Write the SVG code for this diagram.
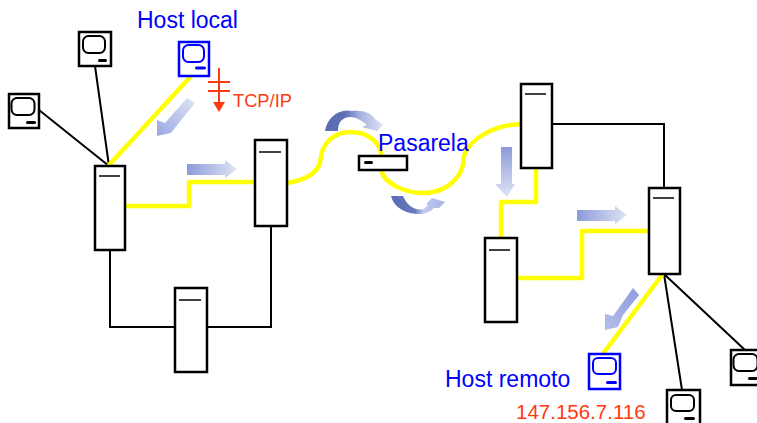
<svg xmlns="http://www.w3.org/2000/svg" width="757" height="423" viewBox="0 0 757 423">
<style>
.sv{fill:#fff;stroke:#000;stroke-width:2.5}
.ln{fill:none;stroke:#000;stroke-width:2}
.bk{fill:none;stroke:#000;stroke-width:2}
.yc{fill:none;stroke:#ffff00;stroke-width:4.5;stroke-linecap:round;stroke-linejoin:round}
.pc{fill:#fff;stroke:#000;stroke-width:2.5}
.pcb{fill:#fff;stroke:#0000ff;stroke-width:2.5}
.scr{fill:#fff;stroke:#000;stroke-width:2}
.scb{fill:#fff;stroke:#0000ff;stroke-width:2}
.bar{stroke:#000;stroke-width:1.500}
.blue{font-family:"Liberation Sans",Arial,sans-serif;font-size:23px;fill:#0000ff}
.red{font-family:"Liberation Sans",Arial,sans-serif;fill:#ff3a10}
</style>
<defs>
<linearGradient id="gr" x1="0" x2="1" y1="0" y2="0"><stop offset="0" stop-color="#8c9bd8"/><stop offset="1" stop-color="#dfe4f6"/></linearGradient>
<linearGradient id="gd" x1="0" x2="0" y1="0" y2="1"><stop offset="0" stop-color="#8c9bd8"/><stop offset="1" stop-color="#dfe4f6"/></linearGradient>
<linearGradient id="gdl" x1="1" x2="0" y1="0" y2="1"><stop offset="0" stop-color="#dfe4f6"/><stop offset="1" stop-color="#9aa8e0"/></linearGradient>
<linearGradient id="gl2" x1="1" x2="0" y1="0" y2="1"><stop offset="0" stop-color="#8e9cdc"/><stop offset="1" stop-color="#b4bfea"/></linearGradient>
<linearGradient id="c1" x1="0" x2="1" y1="0" y2="0"><stop offset="0" stop-color="#5a6cb4"/><stop offset=".35" stop-color="#5f70b6"/><stop offset=".6" stop-color="#a5b1e0"/><stop offset="1" stop-color="#dde2f6"/></linearGradient>
<linearGradient id="c2" x1="0" x2="1" y1="0" y2="0"><stop offset="0" stop-color="#5a6cb4"/><stop offset=".45" stop-color="#6a7abc"/><stop offset=".6" stop-color="#c0c9ee"/><stop offset="1" stop-color="#a9b5e6"/></linearGradient>
</defs>
<g id="connectors">
<path class="ln" d="M95 66L109 166M39 110L109 166M552 124H664V188M664 274L682 390M664 274L745 350"/>
<path class="bk" d="M110 250V327H175M207 327H271V226"/>
<path class="yc" d="M193 74L109 165"/>
<path class="yc" d="M126 206H189V182H255"/>
<path class="yc" d="M286 183C310 180 320 170 321 157C323 142 335 132 351 132C368 132 380 143 381 154"/>
<path class="yc" d="M381 168C382 183 405 193 423 193C446 193 464 178 464 156C470 138 495 125 521 124"/>
<path class="yc" d="M536 169V202H501V238"/>
<path class="yc" d="M517 278H582V231H649"/>
<path class="yc" d="M662 275L602 355"/>
</g>
<g id="flow-arrows">
<path d="M187 164H225V160L237 169L225 178V175H187Z" fill="url(#gr)"/>
<path d="M577 210H615V206L627 215L615 224V221H577Z" fill="url(#gr)"/>
<path d="M187 98L195 103L178 124L171 133L157 136L157 120L165 123Z" fill="url(#gdl)"/>
<path d="M501 147H512V184H515L507 197L495 184H501Z" fill="url(#gd)"/>
<path d="M633 288L639 295L623 315L618 327L605 330L605 314L613 316Z" fill="url(#gl2)"/>
<path d="M325 131C327 117 340 108 352 111C364 110 371 113 375 119L383 125L377 131L362 127L367 125C360 119 352 115 345 118C339 121 338 126 338 131Z" fill="url(#c1)"/>
<path d="M391 196H403C407 205 414 211 424 209L428 205L426 204L432 198L445 202L439 208L434 208C430 212 425 214 420 214C406 214 394 208 391 196Z" fill="url(#c2)"/>
</g>
<g id="host-local">
<rect class="pcb" x="179" y="42" width="30" height="34"/><rect class="scb" x="183" y="45" width="21" height="17" rx="5.500"/><rect x="195" y="66.500" width="11" height="3" rx="1.500" fill="#0000ff"/>
<text class="blue" x="137" y="28">Host local</text></g>
<g id="pc-1"><rect class="pc" x="79" y="32" width="32" height="34"/><rect class="scr" x="83" y="36" width="22" height="17" rx="5.500"/><rect x="98" y="59" width="9" height="3" rx="1.500"/></g>
<g id="pc-2"><rect class="pc" x="9" y="94" width="30" height="34"/><rect class="scr" x="11.500" y="98" width="23" height="17" rx="5.500"/><rect x="26" y="121" width="10" height="3" rx="1.500"/></g>
<g id="tcpip">
<path d="M219 68V104" stroke="#ff3a10" stroke-width="2" fill="none"/><path d="M208 82H230M208 91H230" stroke="#ff3a10" stroke-width="2" fill="none"/><path d="M213 102H225L219 112Z" fill="#ff3a10"/>
<text class="red" x="233" y="107" font-size="18.300">TCP/IP</text></g>
<g id="router-1"><rect class="sv" x="95" y="166" width="30" height="84"/><path class="bar" d="M99 176H120"/></g>
<g id="router-2"><rect class="sv" x="255" y="140" width="32" height="86"/><path class="bar" d="M259 152H281"/></g>
<g id="router-3"><rect class="sv" x="175" y="288" width="32" height="84"/><path class="bar" d="M179 300H201"/></g>
<g id="gateway"><rect class="sv" x="359" y="156" width="48" height="14"/><rect x="364" y="161" width="9" height="3" rx="1.500"/>
<text class="blue" x="378" y="151">Pasarela</text></g>
<g id="router-4"><rect class="sv" x="521" y="84" width="31" height="84"/><path class="bar" d="M525 94H546"/></g>
<g id="router-5"><rect class="sv" x="485" y="238" width="32" height="84"/><path class="bar" d="M489 250H510"/></g>
<g id="router-6"><rect class="sv" x="649" y="188" width="31" height="86"/><path class="bar" d="M653 198H674"/></g>
<g id="host-remoto"><rect class="pcb" x="589" y="354" width="31" height="35"/><rect class="scb" x="593" y="358" width="23" height="16" rx="5"/><rect x="606" y="381" width="11" height="3" rx="1.500" fill="#0000ff"/>
<text class="blue" x="445" y="387">Host remoto</text>
<text class="red" x="516" y="418.500" font-size="20.500">147.156.7.116</text></g>
<g id="pc-3"><rect class="pc" x="667" y="390" width="33" height="40"/><rect class="scr" x="671" y="395" width="23" height="16" rx="5"/><rect x="684" y="417" width="11" height="3" rx="1.500"/></g>
<g id="pc-4"><rect class="pc" x="731" y="350" width="34" height="35"/><rect class="scr" x="733.500" y="354" width="24" height="17" rx="5.500"/><rect x="748" y="377" width="10" height="3" rx="1.500"/></g>
</svg>
